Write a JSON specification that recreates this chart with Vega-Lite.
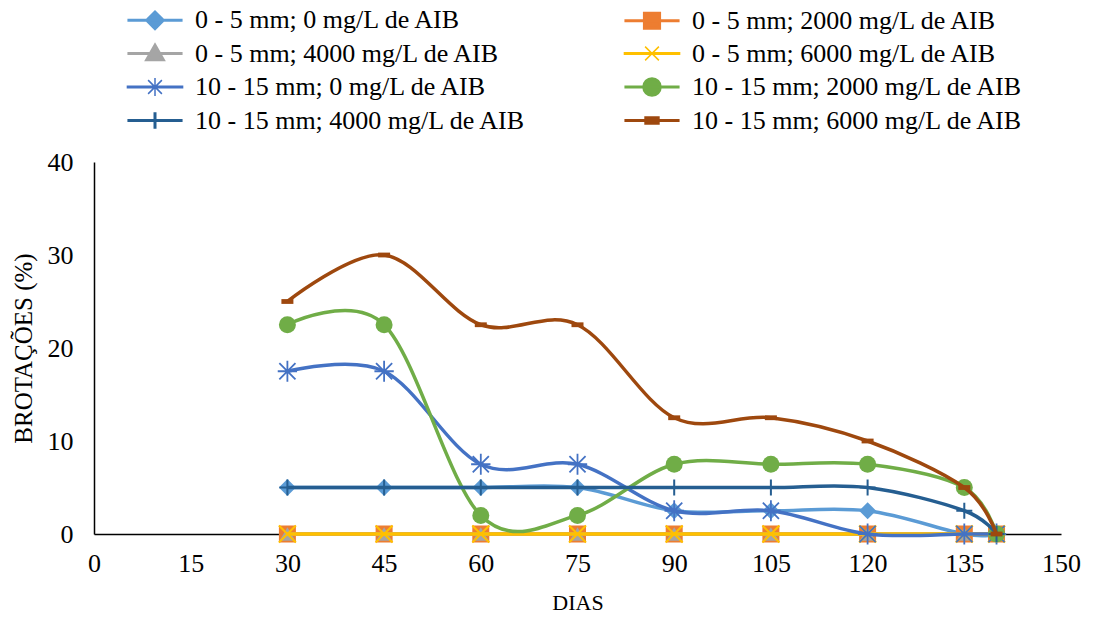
{
  "$schema": "https://vega.github.io/schema/vega-lite/v6.json",
  "width": 967,
  "height": 372,
  "autosize": {"type": "none"},
  "padding": {"left": 94, "top": 162, "right": 35, "bottom": 85},
  "background": "white",
  "config": {"view": {"stroke": null}, "font": "Liberation Serif"},
  "data": {"values": [
    {"serie": "0 - 5 mm; 0 mg/L de AIB", "dias": 30, "brotacoes": 5},
    {"serie": "0 - 5 mm; 0 mg/L de AIB", "dias": 45, "brotacoes": 5},
    {"serie": "0 - 5 mm; 0 mg/L de AIB", "dias": 60, "brotacoes": 5},
    {"serie": "0 - 5 mm; 0 mg/L de AIB", "dias": 75, "brotacoes": 5},
    {"serie": "0 - 5 mm; 0 mg/L de AIB", "dias": 90, "brotacoes": 2.5},
    {"serie": "0 - 5 mm; 0 mg/L de AIB", "dias": 105, "brotacoes": 2.5},
    {"serie": "0 - 5 mm; 0 mg/L de AIB", "dias": 120, "brotacoes": 2.5},
    {"serie": "0 - 5 mm; 0 mg/L de AIB", "dias": 135, "brotacoes": 0},
    {"serie": "0 - 5 mm; 0 mg/L de AIB", "dias": 140, "brotacoes": 0},
    {"serie": "0 - 5 mm; 2000 mg/L de AIB", "dias": 30, "brotacoes": 0},
    {"serie": "0 - 5 mm; 2000 mg/L de AIB", "dias": 45, "brotacoes": 0},
    {"serie": "0 - 5 mm; 2000 mg/L de AIB", "dias": 60, "brotacoes": 0},
    {"serie": "0 - 5 mm; 2000 mg/L de AIB", "dias": 75, "brotacoes": 0},
    {"serie": "0 - 5 mm; 2000 mg/L de AIB", "dias": 90, "brotacoes": 0},
    {"serie": "0 - 5 mm; 2000 mg/L de AIB", "dias": 105, "brotacoes": 0},
    {"serie": "0 - 5 mm; 2000 mg/L de AIB", "dias": 120, "brotacoes": 0},
    {"serie": "0 - 5 mm; 2000 mg/L de AIB", "dias": 135, "brotacoes": 0},
    {"serie": "0 - 5 mm; 2000 mg/L de AIB", "dias": 140, "brotacoes": 0},
    {"serie": "0 - 5 mm; 4000 mg/L de AIB", "dias": 30, "brotacoes": 0},
    {"serie": "0 - 5 mm; 4000 mg/L de AIB", "dias": 45, "brotacoes": 0},
    {"serie": "0 - 5 mm; 4000 mg/L de AIB", "dias": 60, "brotacoes": 0},
    {"serie": "0 - 5 mm; 4000 mg/L de AIB", "dias": 75, "brotacoes": 0},
    {"serie": "0 - 5 mm; 4000 mg/L de AIB", "dias": 90, "brotacoes": 0},
    {"serie": "0 - 5 mm; 4000 mg/L de AIB", "dias": 105, "brotacoes": 0},
    {"serie": "0 - 5 mm; 4000 mg/L de AIB", "dias": 120, "brotacoes": 0},
    {"serie": "0 - 5 mm; 4000 mg/L de AIB", "dias": 135, "brotacoes": 0},
    {"serie": "0 - 5 mm; 4000 mg/L de AIB", "dias": 140, "brotacoes": 0},
    {"serie": "0 - 5 mm; 6000 mg/L de AIB", "dias": 30, "brotacoes": 0},
    {"serie": "0 - 5 mm; 6000 mg/L de AIB", "dias": 45, "brotacoes": 0},
    {"serie": "0 - 5 mm; 6000 mg/L de AIB", "dias": 60, "brotacoes": 0},
    {"serie": "0 - 5 mm; 6000 mg/L de AIB", "dias": 75, "brotacoes": 0},
    {"serie": "0 - 5 mm; 6000 mg/L de AIB", "dias": 90, "brotacoes": 0},
    {"serie": "0 - 5 mm; 6000 mg/L de AIB", "dias": 105, "brotacoes": 0},
    {"serie": "0 - 5 mm; 6000 mg/L de AIB", "dias": 120, "brotacoes": 0},
    {"serie": "0 - 5 mm; 6000 mg/L de AIB", "dias": 135, "brotacoes": 0},
    {"serie": "0 - 5 mm; 6000 mg/L de AIB", "dias": 140, "brotacoes": 0},
    {"serie": "10 - 15 mm; 0 mg/L  de AIB", "dias": 30, "brotacoes": 17.5},
    {"serie": "10 - 15 mm; 0 mg/L  de AIB", "dias": 45, "brotacoes": 17.5},
    {"serie": "10 - 15 mm; 0 mg/L  de AIB", "dias": 60, "brotacoes": 7.5},
    {"serie": "10 - 15 mm; 0 mg/L  de AIB", "dias": 75, "brotacoes": 7.5},
    {"serie": "10 - 15 mm; 0 mg/L  de AIB", "dias": 90, "brotacoes": 2.5},
    {"serie": "10 - 15 mm; 0 mg/L  de AIB", "dias": 105, "brotacoes": 2.5},
    {"serie": "10 - 15 mm; 0 mg/L  de AIB", "dias": 120, "brotacoes": 0},
    {"serie": "10 - 15 mm; 0 mg/L  de AIB", "dias": 135, "brotacoes": 0},
    {"serie": "10 - 15 mm; 0 mg/L  de AIB", "dias": 140, "brotacoes": 0},
    {"serie": "10 - 15 mm; 2000 mg/L de AIB", "dias": 30, "brotacoes": 22.5},
    {"serie": "10 - 15 mm; 2000 mg/L de AIB", "dias": 45, "brotacoes": 22.5},
    {"serie": "10 - 15 mm; 2000 mg/L de AIB", "dias": 60, "brotacoes": 2},
    {"serie": "10 - 15 mm; 2000 mg/L de AIB", "dias": 75, "brotacoes": 2},
    {"serie": "10 - 15 mm; 2000 mg/L de AIB", "dias": 90, "brotacoes": 7.5},
    {"serie": "10 - 15 mm; 2000 mg/L de AIB", "dias": 105, "brotacoes": 7.5},
    {"serie": "10 - 15 mm; 2000 mg/L de AIB", "dias": 120, "brotacoes": 7.5},
    {"serie": "10 - 15 mm; 2000 mg/L de AIB", "dias": 135, "brotacoes": 5},
    {"serie": "10 - 15 mm; 2000 mg/L de AIB", "dias": 140, "brotacoes": 0},
    {"serie": "10 - 15 mm; 4000 mg/L de AIB", "dias": 30, "brotacoes": 5},
    {"serie": "10 - 15 mm; 4000 mg/L de AIB", "dias": 45, "brotacoes": 5},
    {"serie": "10 - 15 mm; 4000 mg/L de AIB", "dias": 60, "brotacoes": 5},
    {"serie": "10 - 15 mm; 4000 mg/L de AIB", "dias": 75, "brotacoes": 5},
    {"serie": "10 - 15 mm; 4000 mg/L de AIB", "dias": 90, "brotacoes": 5},
    {"serie": "10 - 15 mm; 4000 mg/L de AIB", "dias": 105, "brotacoes": 5},
    {"serie": "10 - 15 mm; 4000 mg/L de AIB", "dias": 120, "brotacoes": 5},
    {"serie": "10 - 15 mm; 4000 mg/L de AIB", "dias": 135, "brotacoes": 2.5},
    {"serie": "10 - 15 mm; 4000 mg/L de AIB", "dias": 140, "brotacoes": 0},
    {"serie": "10 - 15 mm; 6000 mg/L de AIB", "dias": 30, "brotacoes": 25},
    {"serie": "10 - 15 mm; 6000 mg/L de AIB", "dias": 45, "brotacoes": 30},
    {"serie": "10 - 15 mm; 6000 mg/L de AIB", "dias": 60, "brotacoes": 22.5},
    {"serie": "10 - 15 mm; 6000 mg/L de AIB", "dias": 75, "brotacoes": 22.5},
    {"serie": "10 - 15 mm; 6000 mg/L de AIB", "dias": 90, "brotacoes": 12.5},
    {"serie": "10 - 15 mm; 6000 mg/L de AIB", "dias": 105, "brotacoes": 12.5},
    {"serie": "10 - 15 mm; 6000 mg/L de AIB", "dias": 120, "brotacoes": 10},
    {"serie": "10 - 15 mm; 6000 mg/L de AIB", "dias": 135, "brotacoes": 5},
    {"serie": "10 - 15 mm; 6000 mg/L de AIB", "dias": 140, "brotacoes": 0}
  ]},
  "encoding": {
    "x": {
      "field": "dias", "type": "quantitative",
      "scale": {"domain": [0, 150], "nice": false, "zero": false},
      "axis": {
        "title": "DIAS", "values": [0, 15, 30, 45, 60, 75, 90, 105, 120, 135, 150],
        "grid": false, "ticks": false, "tickSize": 0,
        "domainColor": "black", "domainWidth": 1.5,
        "labelFont": "Liberation Serif", "labelFontSize": 26, "labelColor": "black", "labelPadding": 16,
        "labelFlush": false, "labelOverlap": false,
        "titleFont": "Liberation Serif", "titleFontSize": 22, "titleFontWeight": "normal", "titleColor": "black", "titlePadding": 16
      }
    },
    "y": {
      "field": "brotacoes", "type": "quantitative",
      "scale": {"domain": [0, 40], "nice": false},
      "axis": {
        "title": "BROTAÇÕES (%)", "values": [0, 10, 20, 30, 40],
        "grid": false, "ticks": false, "tickSize": 0,
        "domainColor": "black", "domainWidth": 1.5,
        "labelFont": "Liberation Serif", "labelFontSize": 26, "labelColor": "black", "labelPadding": 21,
        "labelFlush": false, "labelOverlap": false,
        "titleFont": "Liberation Serif", "titleFontSize": 25, "titleFontWeight": "normal", "titleColor": "black", "titlePadding": 11
      }
    },
    "color": {
      "field": "serie", "type": "nominal",
      "scale": {
        "domain": ["0 - 5 mm; 0 mg/L de AIB", "0 - 5 mm; 4000 mg/L de AIB", "10 - 15 mm; 0 mg/L  de AIB", "10 - 15 mm; 4000 mg/L de AIB", "0 - 5 mm; 2000 mg/L de AIB", "0 - 5 mm; 6000 mg/L de AIB", "10 - 15 mm; 2000 mg/L de AIB", "10 - 15 mm; 6000 mg/L de AIB"],
        "range": ["#5B9BD5", "#A5A5A5", "#4472C4", "#255E91", "#ED7D31", "#FFC000", "#70AD47", "#9E480E"]
      },
      "legend": {
        "title": null, "orient": "none", "legendX": 48, "legendY": -155,
        "columns": 2, "gridAlign": "all", "columnPadding": 91, "rowPadding": 3.5,
        "labelFont": "Liberation Serif", "labelFontSize": 26, "labelColor": "black", "labelLimit": 0, "labelOffset": 27,
        "symbolSize": 190, "symbolStrokeWidth": 3,
        "encode": {
          "symbols": {
            "update": {
              "shape": {"signal": "['M-4,0L4,0M-1.2,0L0,-1.2L1.2,0L0,1.2Z', 'M-4,0L4,0M-1.1,-1.1L1.1,-1.1L1.1,1.1L-1.1,1.1Z', 'M-4,0L4,0M0,-1.2L1.2,0.9L-1.2,0.9Z', 'M-4,-0.12L4,-0.12L4,0.12L-4,0.12ZM-1,-1L1,1M-1,1L1,-1', 'M-4,-0.12L4,-0.12L4,0.12L-4,0.12ZM-1,-1L1,1M-1,1L1,-1M0,-1.3L0,1.3', 'M-4,0L4,0M-1.2,0A1.2,1.2,0,1,0,1.2,0A1.2,1.2,0,1,0,-1.2,0Z', 'M-4,0L4,0M0,-1.2L0,1.2', 'M-4,0L4,0M-0.9,-0.4L0.9,-0.4L0.9,0.4L-0.9,0.4Z'][indexof(['0 - 5 mm; 0 mg/L de AIB', '0 - 5 mm; 2000 mg/L de AIB', '0 - 5 mm; 4000 mg/L de AIB', '0 - 5 mm; 6000 mg/L de AIB', '10 - 15 mm; 0 mg/L  de AIB', '10 - 15 mm; 2000 mg/L de AIB', '10 - 15 mm; 4000 mg/L de AIB', '10 - 15 mm; 6000 mg/L de AIB'], datum.value)]"},
              "fill": {"signal": "scale('color', datum.value)"},
              "stroke": {"signal": "scale('color', datum.value)"},
              "strokeWidth": {"signal": "indexof(['0 - 5 mm; 6000 mg/L de AIB', '10 - 15 mm; 0 mg/L  de AIB'], datum.value) >= 0 ? 1.5 : 3"},
              "opacity": {"value": 1},
              "fillOpacity": {"value": 1},
              "strokeOpacity": {"value": 1}
            }
          }
        }
      }
    }
  },
  "layer": [
    {"transform": [{"filter": {"field": "serie", "equal": "0 - 5 mm; 0 mg/L de AIB"}}], "mark": {"type": "line", "interpolate": "cardinal", "strokeWidth": 3.5}},
    {"transform": [{"filter": {"field": "serie", "equal": "0 - 5 mm; 0 mg/L de AIB"}}], "mark": {"type": "point", "shape": "diamond", "filled": true, "size": 289, "opacity": 1}},
    {"transform": [{"filter": {"field": "serie", "equal": "0 - 5 mm; 2000 mg/L de AIB"}}], "mark": {"type": "line", "interpolate": "cardinal", "strokeWidth": 3.5}},
    {"transform": [{"filter": {"field": "serie", "equal": "0 - 5 mm; 2000 mg/L de AIB"}}], "mark": {"type": "point", "shape": "square", "filled": true, "size": 289, "opacity": 1}},
    {"transform": [{"filter": {"field": "serie", "equal": "0 - 5 mm; 4000 mg/L de AIB"}}], "mark": {"type": "line", "interpolate": "cardinal", "strokeWidth": 3.5}},
    {"transform": [{"filter": {"field": "serie", "equal": "0 - 5 mm; 4000 mg/L de AIB"}}], "mark": {"type": "point", "shape": "triangle-up", "filled": true, "size": 250, "opacity": 1}},
    {"transform": [{"filter": {"field": "serie", "equal": "0 - 5 mm; 6000 mg/L de AIB"}}], "mark": {"type": "line", "interpolate": "cardinal", "strokeWidth": 3.5}},
    {"transform": [{"filter": {"field": "serie", "equal": "0 - 5 mm; 6000 mg/L de AIB"}}], "mark": {"type": "point", "shape": "M-1,-1L1,1M-1,1L1,-1", "filled": false, "strokeWidth": 2, "size": 289, "opacity": 1}},
    {"transform": [{"filter": {"field": "serie", "equal": "10 - 15 mm; 0 mg/L  de AIB"}}], "mark": {"type": "line", "interpolate": "cardinal", "strokeWidth": 3.5}},
    {"transform": [{"filter": {"field": "serie", "equal": "10 - 15 mm; 0 mg/L  de AIB"}}], "mark": {"type": "point", "shape": "M-1,-1L1,1M-1,1L1,-1M0,-1.3L0,1.3M-1.2,0L1.2,0", "filled": false, "strokeWidth": 1.8, "size": 260, "opacity": 1}},
    {"transform": [{"filter": {"field": "serie", "equal": "10 - 15 mm; 2000 mg/L de AIB"}}], "mark": {"type": "line", "interpolate": "cardinal", "strokeWidth": 3.5}},
    {"transform": [{"filter": {"field": "serie", "equal": "10 - 15 mm; 2000 mg/L de AIB"}}], "mark": {"type": "point", "shape": "circle", "filled": true, "size": 289, "opacity": 1}},
    {"transform": [{"filter": {"field": "serie", "equal": "10 - 15 mm; 4000 mg/L de AIB"}}], "mark": {"type": "line", "interpolate": "cardinal", "strokeWidth": 3.5}},
    {"transform": [{"filter": {"field": "serie", "equal": "10 - 15 mm; 4000 mg/L de AIB"}}], "mark": {"type": "point", "shape": "M0,-1L0,1M-1,0L1,0", "filled": false, "strokeWidth": 2, "size": 256, "opacity": 1}},
    {"transform": [{"filter": {"field": "serie", "equal": "10 - 15 mm; 6000 mg/L de AIB"}}], "mark": {"type": "line", "interpolate": "cardinal", "strokeWidth": 3.5}},
    {"transform": [{"filter": {"field": "serie", "equal": "10 - 15 mm; 6000 mg/L de AIB"}}], "mark": {"type": "point", "shape": "M-1,-0.4L1,-0.4L1,0.4L-1,0.4Z", "filled": true, "size": 144, "opacity": 1}}
  ]
}
